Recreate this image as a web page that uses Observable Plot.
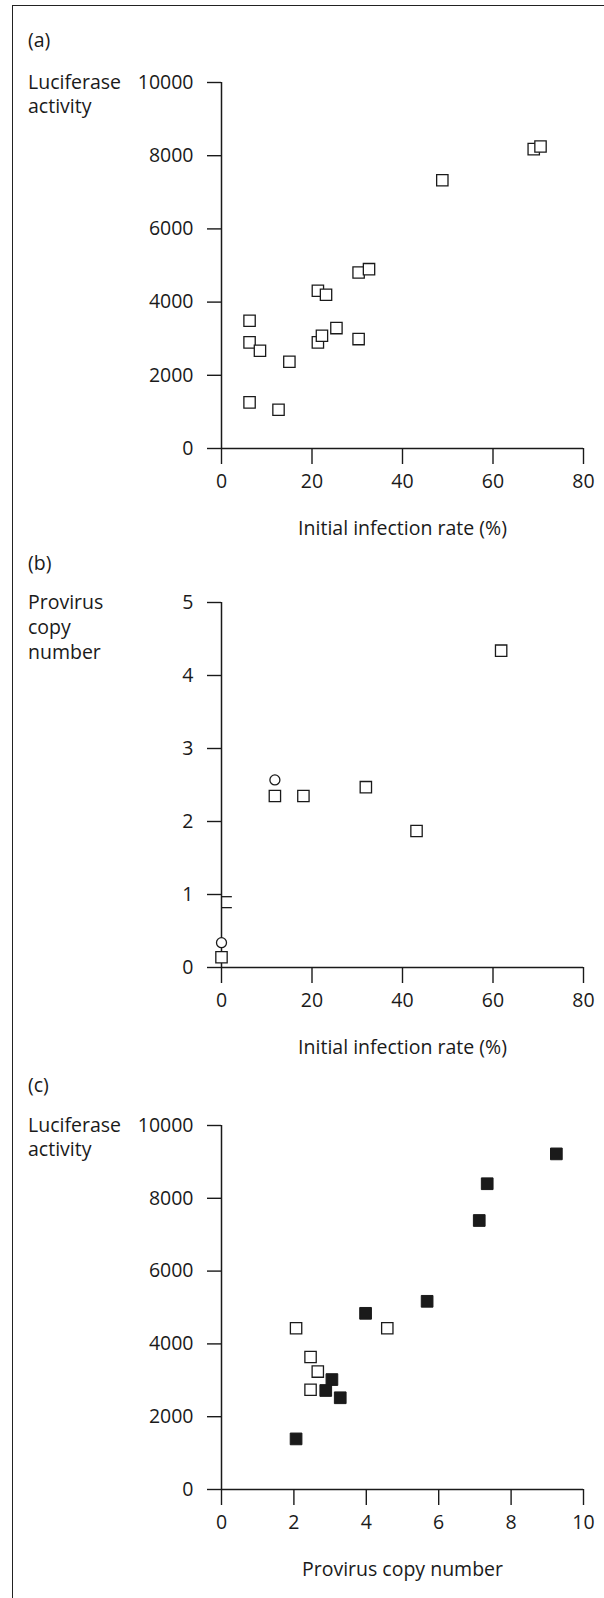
<!DOCTYPE html>
<html><head><meta charset="utf-8">
<script src="https://cdn.jsdelivr.net/npm/d3@7"></script>
<script src="https://cdn.jsdelivr.net/npm/@observablehq/plot@0.6"></script>
<style>
html,body{margin:0;padding:0;background:#fff;}
#page{position:relative;width:604px;height:1598px;overflow:hidden;background:#fff;}
#frame{position:absolute;left:12px;top:5px;right:-2px;bottom:-2px;border-top:1.6px solid #222;border-left:1.6px solid #222;pointer-events:none;z-index:5;}
.panel{position:absolute;left:0;}
svg{display:block;}
</style></head><body>
<div id="page">
<div class="panel" id="pa" style="top:0px"></div>
<div class="panel" id="pb" style="top:545px"></div>
<div class="panel" id="pc" style="top:1065px"></div>
<div id="frame"></div>
</div>
<script>
// ---- Panel (a): luciferase activity vs initial infection rate (open squares)
const aInfection  = [6.2, 6.2, 8.5, 15.0, 6.2, 12.6, 21.3, 23.1, 21.3, 22.2, 25.4, 30.3, 30.3, 32.6, 48.8, 69.0, 70.5];
const aLuciferase = [3490, 2900, 2670, 2370, 1260, 1060, 4310, 4200, 2900, 3080, 3290, 2990, 4810, 4900, 7330, 8180, 8250];
const aXTicks = [0, 20, 40, 60, 80];
const aYTicks = [0, 2000, 4000, 6000, 8000, 10000];

// ---- Panel (b): provirus copy number vs initial infection rate
const bSquareX = [11.8, 18.1, 31.9, 43.1, 61.8, 0];
const bSquareY = [2.35, 2.35, 2.47, 1.87, 4.34, 0.14];
const bCircleX = [11.8, 0];
const bCircleY = [2.57, 0.34];
const bBreakY = [0.97, 0.82];
const bBreakXEnd = 2.4;
const bXTicks = [0, 20, 40, 60, 80];
const bYTicks = [0, 1, 2, 3, 4, 5];

// ---- Panel (c): luciferase activity vs provirus copy number
const cOpenX = [2.06, 4.58, 2.46, 2.66, 2.46];
const cOpenY = [4430, 4430, 3640, 3240, 2740];
const cFilledX = [9.25, 7.34, 7.12, 5.68, 3.98, 3.05, 2.88, 3.28, 2.06];
const cFilledY = [9220, 8400, 7390, 5170, 4840, 3020, 2720, 2520, 1390];
const cXTicks = [0, 2, 4, 6, 8, 10];
const cYTicks = [0, 2000, 4000, 6000, 8000, 10000];

const INK = "#1a1a1a";
const FONT = "'Open Sans', Lato, sans-serif";
const FS = 19.5;
const zip = (xs, ys) => xs.map((x, i) => ({x, y: ys[i]}));

function axesMarks(xTicks, yTicks, panelLabel, panelDy, yLabelLines, yLabelStep, xLabel) {
  const left = -193.5;
  return [
    Plot.ruleY([0], {stroke: INK, strokeWidth: 1.5}),
    Plot.ruleX([0], {stroke: INK, strokeWidth: 1.5}),
    Plot.axisY({ticks: yTicks, tickSize: 14, tickPadding: 14, tickFormat: d => String(d), label: null, stroke: INK, strokeWidth: 1.4, fill: INK, fontSize: FS}),
    Plot.axisX({ticks: xTicks, tickSize: 16, tickPadding: 10, tickFormat: d => String(d), label: null, stroke: INK, strokeWidth: 1.4, fill: INK, fontSize: FS}),
    Plot.text([panelLabel], {frameAnchor: "top-left", dx: left, dy: panelDy, textAnchor: "start", lineAnchor: "middle", fontSize: FS, fill: INK}),
    Plot.text([yLabelLines.join("\n")], {frameAnchor: "top-left", dx: left, dy: 0.32 * FS - 0.71 * yLabelStep, textAnchor: "start", lineAnchor: "top", lineHeight: yLabelStep / FS, fontSize: FS, fill: INK}),
    Plot.text([xLabel], {frameAnchor: "bottom", dy: 80, lineAnchor: "middle", fontSize: FS, fill: INK})
  ];
}

const common = {width: 604, marginLeft: 221, marginRight: 21, style: {fontFamily: FONT, fontSize: FS + "px", color: INK, background: "transparent", overflow: "visible"}};

const pa = Plot.plot({
  ...common, height: 545, marginTop: 82, marginBottom: 97,
  x: {domain: [0, 80], axis: null},
  y: {domain: [0, 10000], axis: null},
  marks: [
    ...axesMarks(aXTicks, aYTicks, "(a)", -42, ["Luciferase", "activity"], 24.5, "Initial infection rate (%)"),
    Plot.dot(zip(aInfection, aLuciferase), {x: "x", y: "y", symbol: "square", r: 6.4, fill: "white", stroke: INK, strokeWidth: 1.3})
  ]
});
document.getElementById("pa").appendChild(pa);

const pb = Plot.plot({
  ...common, height: 520, marginTop: 57, marginBottom: 98,
  x: {domain: [0, 80], axis: null},
  y: {domain: [0, 5], axis: null},
  marks: [
    ...axesMarks(bXTicks, bYTicks, "(b)", -39, ["Provirus", "copy", "number"], 25, "Initial infection rate (%)"),
    Plot.ruleY(bBreakY, {x1: 0, x2: bBreakXEnd, stroke: INK, strokeWidth: 1.3}),
    Plot.dot(zip(bSquareX, bSquareY), {x: "x", y: "y", symbol: "square", r: 6.4, fill: "white", stroke: INK, strokeWidth: 1.3}),
    Plot.dot(zip(bCircleX, bCircleY), {x: "x", y: "y", symbol: "circle", r: 5, fill: "white", stroke: INK, strokeWidth: 1.3})
  ]
});
document.getElementById("pb").appendChild(pb);

const pc = Plot.plot({
  ...common, height: 533, marginTop: 60, marginBottom: 109,
  x: {domain: [0, 10], axis: null},
  y: {domain: [0, 10000], axis: null},
  marks: [
    ...axesMarks(cXTicks, cYTicks, "(c)", -40, ["Luciferase", "activity"], 24.5, "Provirus copy number"),
    Plot.dot(zip(cOpenX, cOpenY), {x: "x", y: "y", symbol: "square", r: 6.4, fill: "white", stroke: INK, strokeWidth: 1.3}),
    Plot.dot(zip(cFilledX, cFilledY), {x: "x", y: "y", symbol: "square", r: 6.6, fill: INK, stroke: INK, strokeWidth: 1})
  ]
});
document.getElementById("pc").appendChild(pc);
</script>
</body></html>
